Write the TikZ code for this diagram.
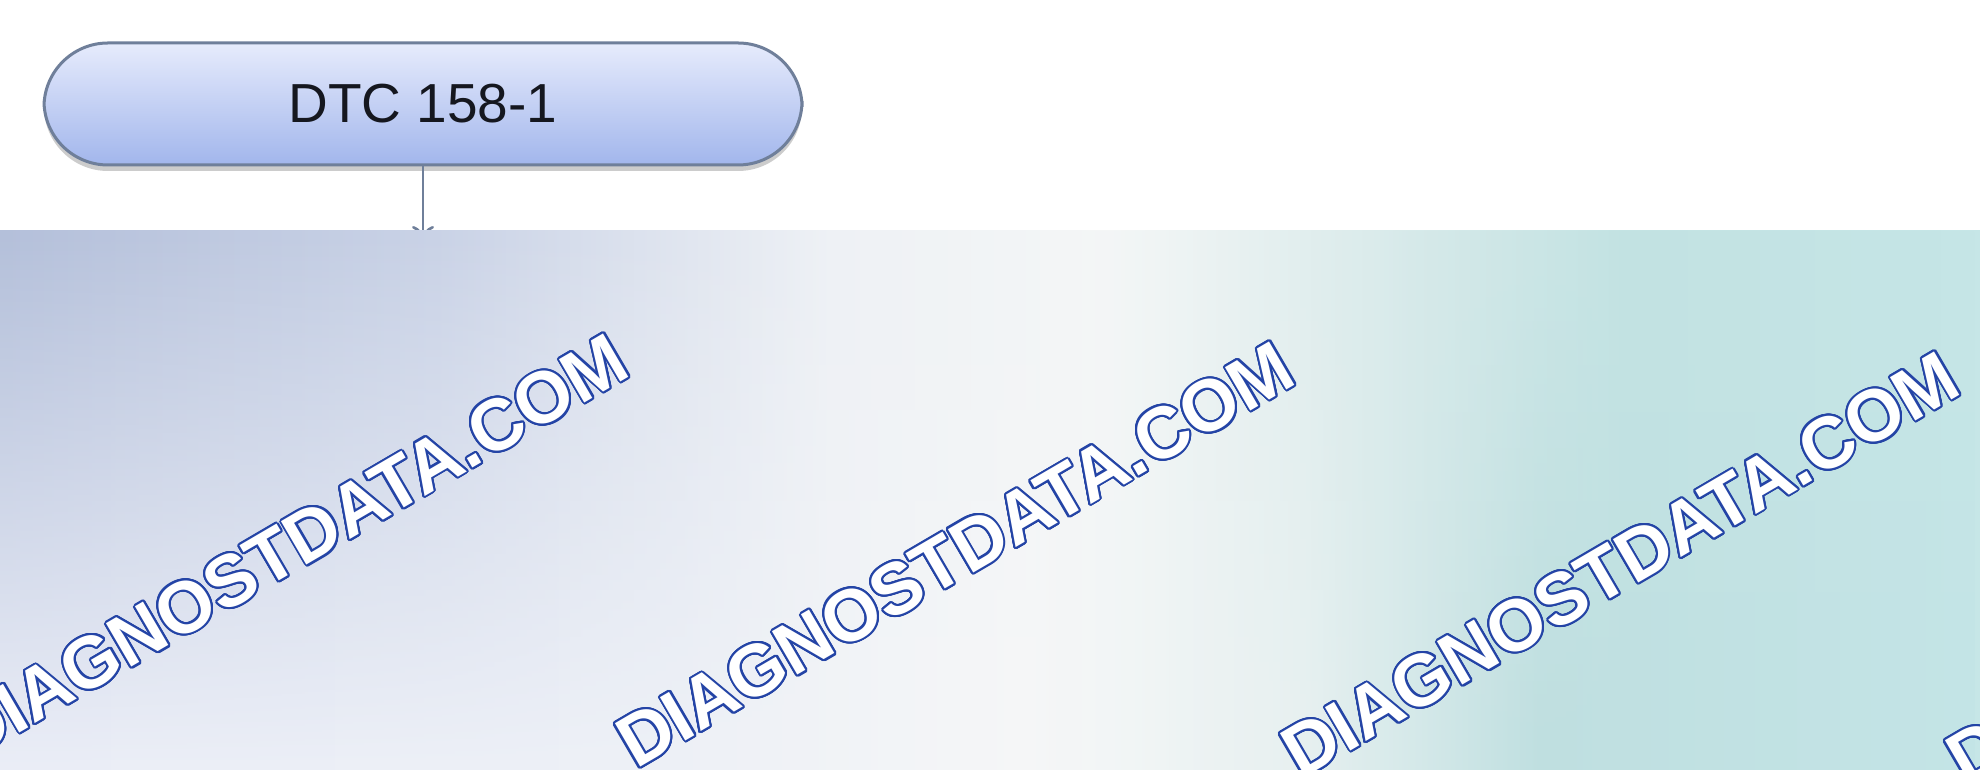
\documentclass[tikz,border=0pt]{standalone}
\usepackage{fontspec}
\setmainfont{Liberation Sans}
\usepackage{contour}
\usetikzlibrary{arrows.meta,shadows,fadings}
\definecolor{cBoxTop}{HTML}{E6EBFC}
\definecolor{cBoxBot}{HTML}{A2B6EC}
\definecolor{cLine}{HTML}{6F7F9A}
\definecolor{cText}{HTML}{15171F}
\definecolor{cMark}{HTML}{2444A6}
% band, upper edge
\definecolor{tA}{HTML}{CDD7EE}
\definecolor{tB}{HTML}{B8C3DE}
\definecolor{tC}{HTML}{B2BED9}
\definecolor{tD}{HTML}{C9D2E6}
\definecolor{tE}{HTML}{EEF1F5}
\definecolor{tF}{HTML}{F4F6F6}
\definecolor{tG}{HTML}{DDECEC}
\definecolor{tH}{HTML}{C3E3E3}
\definecolor{tI}{HTML}{C8E8EA}
\definecolor{tJ}{HTML}{D8F2F4}
% band, lower edge
\definecolor{bA}{HTML}{EDF0F8}
\definecolor{bB}{HTML}{EBEEF7}
\definecolor{bC}{HTML}{EEF1F7}
\definecolor{bD}{HTML}{F6F7F8}
\definecolor{bE}{HTML}{E8F1F1}
\definecolor{bF}{HTML}{BFDFE0}
\definecolor{bG}{HTML}{C4E5E7}
\definecolor{bH}{HTML}{D0EEF0}
\pgfdeclarehorizontalshading{bandtop}{100bp}{color(0bp)=(tA); color(12bp)=(tB);
  color(24bp)=(tC); color(36bp)=(tD); color(46bp)=(tE); color(53bp)=(tF);
  color(59bp)=(tG); color(66bp)=(tH); color(82bp)=(tI); color(100bp)=(tJ)}
\pgfdeclarehorizontalshading{bandbot}{100bp}{color(0bp)=(bA); color(25bp)=(bB);
  color(42bp)=(bC); color(51bp)=(bD); color(58bp)=(bE); color(64bp)=(bF);
  color(77bp)=(bG); color(100bp)=(bH)}
\tikzfading[name=bandfade, top color=transparent!100, bottom color=transparent!0]
\contourlength{1pt}
\contournumber{24}
\tikzset{dtcbox/.style={
  shape=rectangle,
  rounded corners=32pt,
  draw=cLine,
  line width=1.5pt,
  top color=cBoxTop,
  bottom color=cBoxBot,
  minimum width=379pt,
  minimum height=61pt,
  text=cText,
  font=\fontsize{27.5}{27.5}\selectfont,
  drop shadow={shadow xshift=0pt, shadow yshift=-3pt, opacity=0.4},
  }
}
\tikzset{flowarrow/.style={
  draw=cLine,
  line width=1.3pt,
  -{To[length=7pt,width=11pt]},
  }
}
\tikzset{wmark/.style={
  anchor=base west,
  inner sep=0pt,
  rotate=30.3,
  text=white,
  font=\bfseries\fontsize{36.5}{36.5}\selectfont,
  }
}

\begin{document}
\begin{tikzpicture}[x=0.5pt,y=0.5pt]
  \useasboundingbox (0,0) rectangle (1980,770);
  \fill [white] (0,0) rectangle (1980,770);

  \node [dtcbox] (dtc) at (423,666) {DTC 158-1};
  \coordinate (next) at (423,530);
  \draw [flowarrow] (dtc) -- (next);

  % background band
  \shade [shading=bandtop] (0,0) rectangle (1980,539);
  \shade [shading=bandbot, path fading=bandfade] (0,0) rectangle (1980,539);

  \foreach \mx/\my [count=\i] in {-30/8, 636/0, 1301/-10, 1966/-17}
    \node [wmark] (mark\i) at (\mx,\my) {\contour{cMark}{DIAGNOSTDATA.COM}};
\end{tikzpicture}
\end{document}
